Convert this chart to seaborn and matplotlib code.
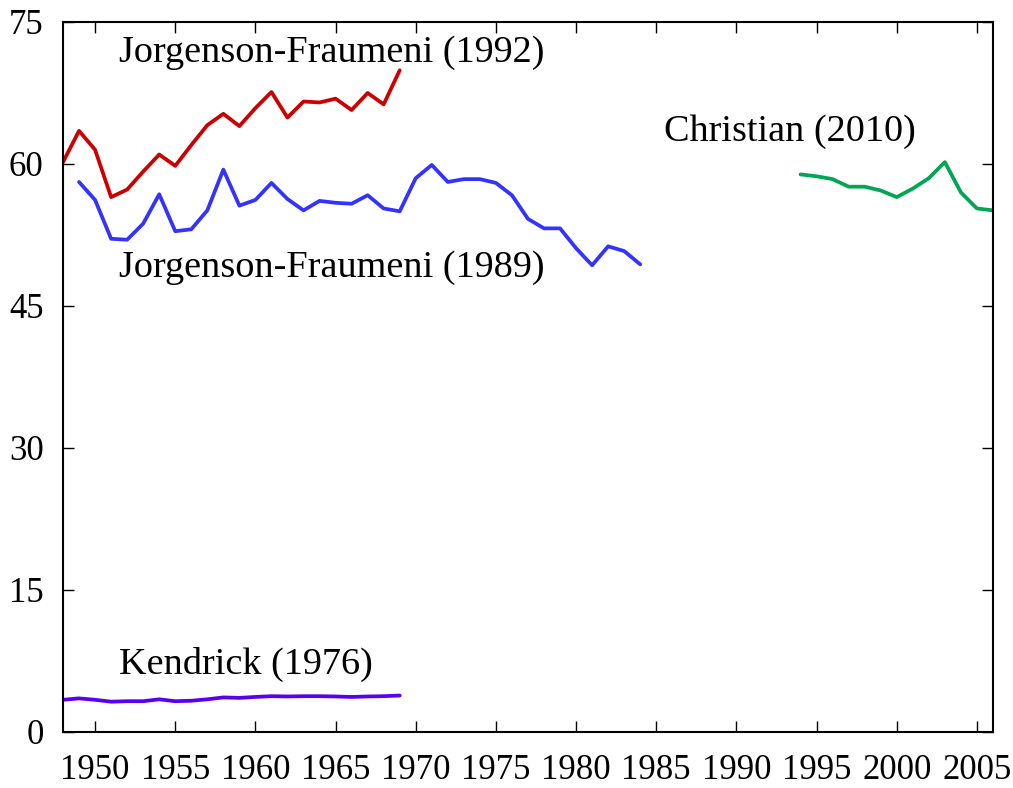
import numpy as np
import pandas as pd
import matplotlib
matplotlib.use("Agg")
import matplotlib.pyplot as plt
import seaborn as sns

# --- data ---
jf92_years = list(range(1948, 1970))
jf92_vals = [60.2, 63.5, 61.5, 56.5, 57.3, 59.2, 61.0, 59.8, 62.0, 64.1, 65.3,
             64.0, 65.9, 67.6, 64.9, 66.6, 66.5, 66.9, 65.7, 67.5, 66.3, 69.9]

jf89_years = list(range(1949, 1985))
jf89_vals = [58.1, 56.2, 52.1, 52.0, 53.7, 56.8, 52.9, 53.1, 55.1, 59.4, 55.6,
             56.2, 58.0, 56.3, 55.1, 56.1, 55.9, 55.8, 56.7, 55.3, 55.0, 58.5,
             59.9, 58.1, 58.4, 58.4, 58.0, 56.7, 54.2, 53.2, 53.2, 51.1, 49.3,
             51.3, 50.8, 49.4]

kend_years = list(range(1948, 1970))
kend_vals = [3.4, 3.55, 3.4, 3.2, 3.25, 3.25, 3.45, 3.25, 3.3, 3.45, 3.65,
             3.6, 3.7, 3.78, 3.75, 3.78, 3.78, 3.75, 3.7, 3.75, 3.78, 3.85]

chr_years = list(range(1994, 2007))
chr_vals = [58.9, 58.7, 58.4, 57.6, 57.6, 57.2, 56.5, 57.4, 58.5, 60.2, 57.0,
            55.3, 55.1]

series = [
    ("Jorgenson-Fraumeni (1992)", jf92_years, jf92_vals, "#cc0000", (1951.5, 71.8)),
    ("Jorgenson-Fraumeni (1989)", jf89_years, jf89_vals, "#3333ff", (1951.5, 49.0)),
    ("Kendrick (1976)", kend_years, kend_vals, "#5a00f0", (1951.5, 7.1)),
    ("Christian (2010)", chr_years, chr_vals, "#00a651", (1985.5, 63.4)),
]
x_ticks = list(range(1950, 2006, 5))
y_ticks = [0, 15, 30, 45, 60, 75]

sns.set_style("ticks")
plt.rcParams['font.family'] = ['Liberation Serif', 'DejaVu Serif']

fig = plt.figure(figsize=(10.13, 7.88), dpi=100)
ax = fig.add_axes([0.0622, 0.0711, 0.918, 0.901])

for name, yrs, vals, col, (tx, ty) in series:
    df = pd.DataFrame({"year": yrs, "value": vals})
    sns.lineplot(data=df, x="year", y="value", ax=ax, color=col, linewidth=2.7)
    ax.text(tx, ty, name, fontsize=27.5, va="center", ha="left", color="black")

ax.set_xlim(1948, 2006)
ax.set_ylim(0, 75)
ax.set_xticks(x_ticks)
ax.set_yticks(y_ticks)
ax.set_xlabel("")
ax.set_ylabel("")
ax.tick_params(direction="in", length=8, width=1, top=True, right=True,
               labelsize=25, colors="black")
ax.tick_params(axis="x", pad=16)
ax.tick_params(axis="y", pad=14)
for s in ax.spines.values():
    s.set_linewidth(1.5)
    s.set_color("black")

plt.savefig("out.png", dpi=100)
